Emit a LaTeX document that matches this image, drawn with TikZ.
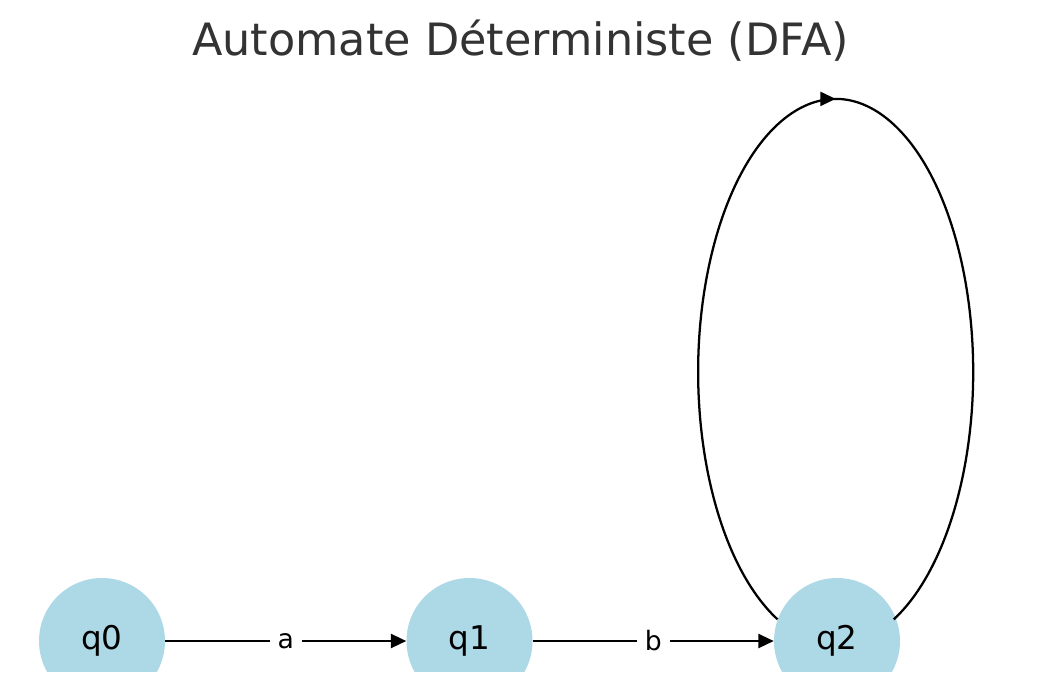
\documentclass[tikz,border=0pt]{standalone}
\usepackage{fontspec}
\setmainfont{DejaVu Sans}
\usetikzlibrary{arrows.meta,decorations.markings}
\definecolor{nodeblue}{HTML}{ADD8E6}
\definecolor{titlegray}{HTML}{333333}
\begin{document}
\begin{tikzpicture}[x=0.75pt,y=-0.75pt,
  state/.style={circle,fill=nodeblue,minimum size=94.5pt,inner sep=0pt,font=\fontsize{24.5}{29}\selectfont},
  edge/.style={line width=1.7pt,-{Triangle[length=11.5pt,width=10.5pt]}},
  loopedge/.style={line width=1.7pt,postaction={decorate},
    decoration={markings,mark=at position 0.5 with {\arrow{Triangle[length=11.5pt,width=10.5pt]}}}},
  elabel/.style={fill=white,inner xsep=6pt,inner ysep=2pt,font=\fontsize{20}{24}\selectfont},
  titlestyle/.style={anchor=base,text=titlegray,font=\fontsize{33.4}{40}\selectfont}]
\useasboundingbox (0,0) rectangle (1039,690);
\node[titlestyle] (title) at (520.5,55) {Automate Déterministe (DFA)};
\begin{scope}
\clip (0,0) rectangle (1039,671);
\node[state] (q0) at (102,641) {q0};
\node[state] (q1) at (469.5,641) {q1};
\node[state] (q2) at (837,641) {q2};
\end{scope}
\draw[edge] (q0) -- node[elabel] (la) {a} (q1);
\draw[edge] (q1) -- node[elabel] (lb) {b} (q2);
\draw[loopedge] (q2.160) arc[start angle=115, end angle=425, x radius=137.5, y radius=273];
\end{tikzpicture}
\end{document}
